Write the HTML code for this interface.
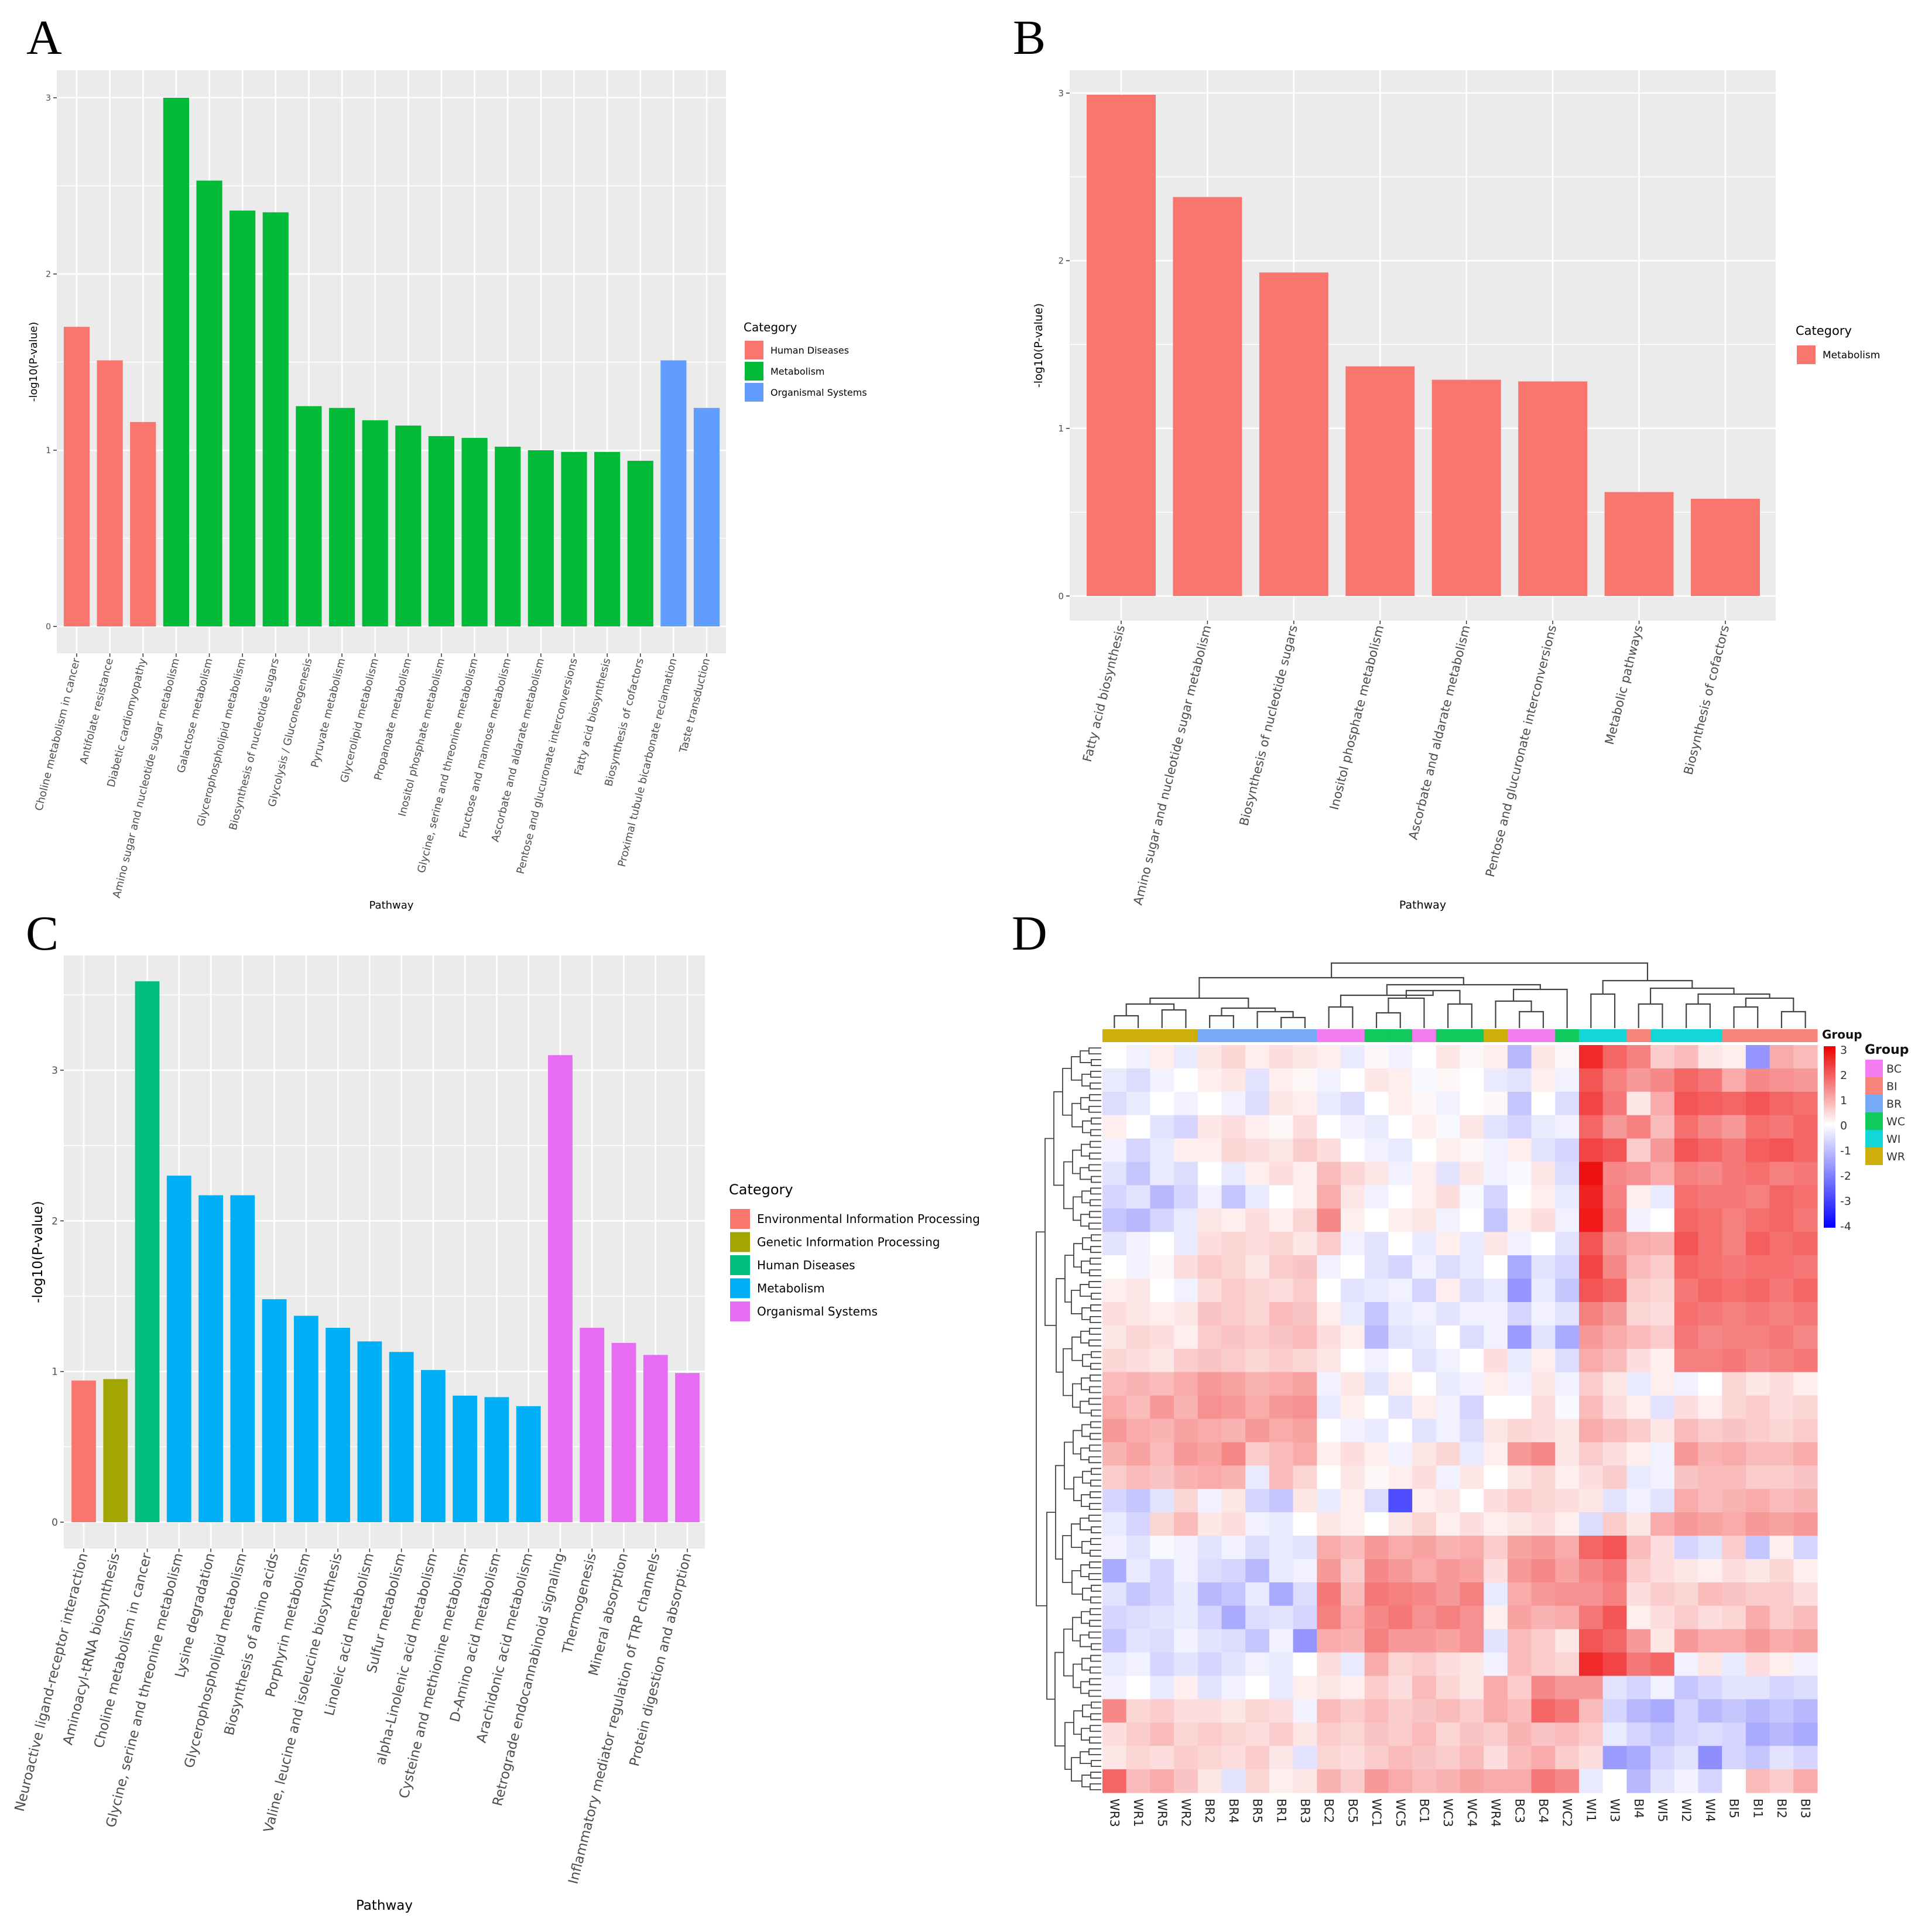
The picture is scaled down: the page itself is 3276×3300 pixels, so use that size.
<!DOCTYPE html>
<html><head><meta charset="utf-8">
<style>
html,body{margin:0;padding:0;background:#fff;}
svg{display:block;font-family:"DejaVu Sans","Liberation Sans",sans-serif;}
</style></head>
<body>
<svg id="fig" xmlns="http://www.w3.org/2000/svg" width="3276" height="3300" viewBox="0 0 3276 3300">
<rect x="0" y="0" width="3276" height="3300" fill="#fff"/>
<text x="45" y="92" font-family="Liberation Serif" font-size="84">A</text>
<text x="1730" y="92" font-family="Liberation Serif" font-size="84">B</text>
<text x="44" y="1622" font-family="Liberation Serif" font-size="84">C</text>
<text x="1728" y="1622" font-family="Liberation Serif" font-size="84">D</text>
</svg>
<script>
// ---------- Panel A data ----------
const catsA = ["Choline metabolism in cancer","Antifolate resistance","Diabetic cardiomyopathy","Amino sugar and nucleotide sugar metabolism","Galactose metabolism","Glycerophospholipid metabolism","Biosynthesis of nucleotide sugars","Glycolysis / Gluconeogenesis","Pyruvate metabolism","Glycerolipid metabolism","Propanoate metabolism","Inositol phosphate metabolism","Glycine, serine and threonine metabolism","Fructose and mannose metabolism","Ascorbate and aldarate metabolism","Pentose and glucuronate interconversions","Fatty acid biosynthesis","Biosynthesis of cofactors","Proximal tubule bicarbonate reclamation","Taste transduction"];
const valsA = [1.70,1.51,1.16,3.00,2.53,2.36,2.35,1.25,1.24,1.17,1.14,1.08,1.07,1.02,1.00,0.99,0.99,0.94,1.51,1.24];
const groupA = [0,0,0,1,1,1,1,1,1,1,1,1,1,1,1,1,1,1,2,2];
const legendA = ["Human Diseases","Metabolism","Organismal Systems"];
const colorsA = ["#F8766D","#00BA38","#619CFF"];
const ticksA = [0,1,2,3];
// ---------- Panel B data ----------
const catsB = ["Fatty acid biosynthesis","Amino sugar and nucleotide sugar metabolism","Biosynthesis of nucleotide sugars","Inositol phosphate metabolism","Ascorbate and aldarate metabolism","Pentose and glucuronate interconversions","Metabolic pathways","Biosynthesis of cofactors"];
const valsB = [2.99,2.38,1.93,1.37,1.29,1.28,0.62,0.58];
const groupB = [0,0,0,0,0,0,0,0];
const legendB = ["Metabolism"];
const colorsB = ["#F8766D"];
const ticksB = [0,1,2,3];
// ---------- Panel C data ----------
const catsC = ["Neuroactive ligand-receptor interaction","Aminoacyl-tRNA biosynthesis","Choline metabolism in cancer","Glycine, serine and threonine metabolism","Lysine degradation","Glycerophospholipid metabolism","Biosynthesis of amino acids","Porphyrin metabolism","Valine, leucine and isoleucine biosynthesis","Linoleic acid metabolism","Sulfur metabolism","alpha-Linolenic acid metabolism","Cysteine and methionine metabolism","D-Amino acid metabolism","Arachidonic acid metabolism","Retrograde endocannabinoid signaling","Thermogenesis","Mineral absorption","Inflammatory mediator regulation of TRP channels","Protein digestion and absorption"];
const valsC = [0.94,0.95,3.59,2.30,2.17,2.17,1.48,1.37,1.29,1.20,1.13,1.01,0.84,0.83,0.77,3.10,1.29,1.19,1.11,0.99];
const groupC = [0,1,2,3,3,3,3,3,3,3,3,3,3,3,3,4,4,4,4,4];
const legendC = ["Environmental Information Processing","Genetic Information Processing","Human Diseases","Metabolism","Organismal Systems"];
const colorsC = ["#F8766D","#A3A500","#00BF7D","#00B0F6","#E76BF3"];
const ticksC = [0,1,2,3];
// ---------- Panel D data ----------
const sampleLabels = ["WR3","WR1","WR5","WR2","BR2","BR4","BR5","BR1","BR3","BC2","BC5","WC1","WC5","BC1","WC3","WC4","WR4","BC3","BC4","WC2","WI1","WI3","BI4","WI5","WI2","WI4","BI5","BI1","BI2","BI3"];
const sampleGroups = ["WR","WR","WR","WR","BR","BR","BR","BR","BR","BC","BC","WC","WC","BC","WC","WC","WR","BC","BC","WC","WI","WI","BI","WI","WI","WI","BI","BI","BI","BI"];
const groupNames = ["BC","BI","BR","WC","WI","WR"];
const groupColors = ["#F57BF0","#F8857C","#76AAF6","#12C95E","#13D6D8","#CDAE0A"];
const scaleTicks = [3,2,1,0,-1,-2,-3,-4];
const heat = [
[0,-2,2,-3,3,5,2,4,3,2,-3,1,-2,0,3,1,2,-10,3,1,25,18,15,6,8,3,2,-15,10,8],
[-3,-5,-2,0,2,3,-4,2,1,-2,0,3,2,-1,1,0,-3,-4,2,-2,20,15,12,14,18,16,10,14,13,12],
[-5,-3,0,-2,0,-2,-5,3,2,-3,-5,0,2,1,-2,0,1,-8,0,-5,22,16,3,10,20,19,18,20,18,17],
[2,0,-4,-6,3,4,2,1,4,0,-2,-3,0,2,-1,3,-4,-6,-3,-2,18,12,15,8,17,14,12,17,16,18],
[-2,-6,-3,2,2,5,4,3,6,4,0,-2,-3,0,2,1,-2,2,-4,-6,22,20,6,12,20,18,16,19,20,18],
[-4,-8,-3,-5,0,-3,2,4,2,8,5,3,-2,2,-4,3,-2,-1,3,-5,28,14,13,10,15,14,16,17,15,16],
[-6,-4,-10,-6,-2,-8,-3,0,2,10,3,-2,0,2,4,-1,-6,0,2,-3,26,15,2,-3,17,16,16,15,18,17],
[-8,-10,-6,-3,3,2,4,2,5,14,2,0,2,3,-2,0,-8,2,4,-2,27,16,-2,0,18,17,15,17,18,16],
[-4,-2,0,-3,4,5,4,5,3,6,-2,-4,0,-3,2,-3,3,-2,0,-4,20,12,10,9,20,17,15,19,17,18],
[0,-2,1,4,6,5,3,6,7,-2,0,-4,-6,-2,-5,-3,0,-12,-4,-6,22,14,8,6,18,17,16,17,17,16],
[2,3,0,-2,4,6,5,4,6,0,-4,-3,-2,-6,2,-5,-3,-15,-3,-8,20,18,6,5,16,18,17,18,16,18],
[4,3,2,3,7,6,5,8,7,2,-3,-8,-3,-2,-4,-2,-2,-6,-2,-4,15,12,5,4,17,16,15,16,15,16],
[3,5,4,2,6,7,6,7,8,4,2,-10,-4,-3,0,-5,-2,-14,-4,-12,12,10,8,6,16,14,15,15,16,14],
[5,4,3,6,7,6,5,6,5,3,0,-2,0,-4,-2,0,4,-3,2,-5,10,8,4,2,15,15,16,14,15,16],
[8,9,8,10,12,11,9,10,11,-2,3,-4,2,0,-3,-2,2,-2,3,-2,6,3,-3,2,-2,0,5,3,4,2],
[10,8,12,9,13,12,10,12,13,-3,2,0,-4,2,-2,-6,0,0,4,-1,8,4,2,-4,4,2,5,6,4,5],
[12,10,9,11,10,9,12,10,11,0,-2,-3,0,-4,-2,-5,3,5,4,3,10,8,6,3,8,6,7,6,5,6],
[9,11,8,12,11,14,6,8,10,2,4,2,-2,3,5,-3,2,12,14,3,6,4,2,-2,12,9,10,8,8,10],
[6,8,7,9,10,9,-3,8,5,0,3,1,2,4,-2,3,0,3,5,2,4,6,-3,-2,7,8,8,6,6,7],
[-6,-8,-4,5,-2,3,-6,-8,3,-3,2,-5,-25,2,3,0,4,6,5,4,3,-4,-2,-4,10,8,9,10,8,9],
[-3,-6,5,8,3,4,-2,-3,0,3,2,0,3,5,2,4,2,3,4,2,-5,6,3,10,12,11,10,12,11,12],
[-2,-4,-1,-2,-4,-2,-5,-3,-4,10,8,12,10,11,9,10,6,11,12,10,18,20,8,4,-6,-4,6,-8,2,-6],
[-12,-3,-6,-2,-5,-6,-10,-3,-2,12,6,14,12,10,12,11,4,12,14,11,14,16,6,4,3,2,4,3,5,2],
[-4,-8,-6,-3,-10,-8,-3,-12,-5,16,8,16,15,14,12,15,-3,10,12,13,13,15,4,6,5,8,7,6,6,4],
[-6,-5,-4,-3,-6,-12,-5,-4,-6,15,10,14,16,13,15,13,2,11,9,10,16,20,2,4,6,4,5,10,6,8],
[-8,-4,-5,-2,-4,-5,-8,-2,-15,10,9,15,12,12,11,13,-4,8,6,3,20,18,12,3,12,10,10,12,10,11],
[-3,-2,-6,-4,-6,-4,-2,-3,0,4,-3,10,5,6,4,3,-2,8,6,5,25,22,16,18,-2,3,-3,4,2,-2],
[-2,0,-3,2,-4,-2,0,-3,2,3,2,6,4,8,5,3,10,6,14,12,12,-4,-6,-2,-8,-6,-4,-4,-6,-5],
[14,5,6,4,4,3,5,4,-2,8,6,8,6,7,8,6,10,8,18,16,8,-6,-10,-12,-6,-10,-8,-10,-8,-10],
[4,6,8,5,6,5,4,6,3,6,5,7,6,8,5,7,6,9,7,8,6,-3,-6,-8,-6,-5,-6,-12,-10,-12],
[3,5,4,6,5,4,6,3,-4,5,4,6,8,7,6,8,4,8,10,6,4,-14,-12,-6,-4,-16,-6,-8,-4,-6],
[18,8,10,7,3,-4,5,2,3,9,6,12,10,8,9,11,10,10,16,14,-3,0,-10,-4,-2,-6,0,8,6,10]
];

const NS = "http://www.w3.org/2000/svg";
const svg = document.getElementById("fig");
function mk(tag, attrs, parent) {
  const e = document.createElementNS(NS, tag);
  for (const k in attrs) e.setAttribute(k, attrs[k]);
  (parent || svg).appendChild(e);
  return e;
}

function barChart(o) {
  const g = mk("g", {});
  
  
  const n = o.cats.length;
  const step = (o.lastC - o.firstC) / (n - 1);
  const xC = i => o.firstC + i * step;
  const yS = v => o.y0 - (v / 3) * (o.y0 - o.y3);
  const bg = mk("rect", {x:o.px0, y:o.py0, width:o.px1-o.px0, height:o.py1-o.py0, fill:"#EBEBEB"}, g);
  
  
  for (let t = 0.5; yS(t) > o.py0; t += 1) {
    mk("line", {x1:o.px0, x2:o.px1, y1:yS(t), y2:yS(t), stroke:"#fff", "stroke-width":1.3}, g);
  }
  o.ticks.forEach(t => {
    const ln = mk("line", {x1:o.px0, x2:o.px1, y1:yS(t), y2:yS(t), stroke:"#fff", "stroke-width":2.6}, g);
    
    
    mk("line", {x1:o.px0-6, x2:o.px0, y1:yS(t), y2:yS(t), stroke:"#333", "stroke-width":1.5}, g);
    const tx = mk("text", {x:o.px0-10, y:yS(t)+o.tickFs*0.35, "text-anchor":"end", "font-size":o.tickFs, fill:"#4D4D4D"}, g);
    tx.textContent = t;
    
    
  });
  o.cats.forEach((c, i) => {
    mk("line", {x1:xC(i), x2:xC(i), y1:o.py0, y2:o.py1, stroke:"#fff", "stroke-width":2.6}, g);
  });
  o.vals.forEach((v, i) => {
    const w = step * o.bw;
    const r = mk("rect", {x:xC(i)-w/2, y:yS(v), width:w, height:o.y0-yS(v), fill:o.colors[o.groups[i]]}, g);
    
    
  });
  o.cats.forEach((c, i) => {
    mk("line", {x1:xC(i), x2:xC(i), y1:o.py1, y2:o.py1+6, stroke:"#333", "stroke-width":1.5}, g);
    const ax = xC(i) + o.labFs*0.3, ay = o.py1 + 10;
    const t = mk("text", {x:ax, y:ay, "text-anchor":"end", "font-size":o.labFs, fill:"#4D4D4D",
      transform:`rotate(${o.rot} ${ax} ${ay})`}, g);
    t.textContent = c;
    
    
  });
  const yt = mk("text", {x:o.yTitleX, y:(o.py0+o.py1)/2, "text-anchor":"middle", "font-size":o.titleFs, fill:"#000",
    transform:`rotate(-90 ${o.yTitleX} ${(o.py0+o.py1)/2})`}, g);
  yt.textContent = "-log10(P-value)";
  
  
  const xt = mk("text", {x:(o.px0+o.px1)/2, y:o.xTitleY, "text-anchor":"middle", "font-size":o.titleFs, fill:"#000"}, g);
  xt.textContent = "Pathway";
  
  
  const lg = mk("g", {}, g);
  
  
  const lt = mk("text", {x:o.legX, y:o.legY, "font-size":o.legTitleFs, fill:"#000"}, lg);
  lt.textContent = "Category";
  
  
  o.legend.forEach((name, i) => {
    const cy = o.legY + o.legFirst + i * o.legStep;
    const sw = mk("rect", {x:o.legX+2, y:cy-o.key/2, width:o.key, height:o.key, fill:o.colors[i]}, lg);
    
    
    const tt = mk("text", {x:o.legX+o.key+14, y:cy+o.legFs*0.36, "font-size":o.legFs, fill:"#000"}, lg);
    tt.textContent = name;
    
    
  });
}

barChart({name:"chart-a", cats:catsA, vals:valsA, groups:groupA, colors:colorsA, legend:legendA, ticks:ticksA,
  px0:97, px1:1240, py0:120, py1:1116, y0:1070, y3:167, firstC:131, lastC:1207, bw:0.78,
  tickFs:14, labFs:18, rot:-76, titleFs:18, yTitleX:63, xTitleY:1552,
  legX:1270, legY:566, legTitleFs:20, legFs:16, legFirst:32, legStep:36, key:32});
barChart({name:"chart-b", cats:catsB, vals:valsB, groups:groupB, colors:colorsB, legend:legendB, ticks:ticksB,
  px0:1827, px1:3033, py0:120, py1:1060, y0:1018, y3:159, firstC:1915, lastC:2947, bw:0.8,
  tickFs:15, labFs:21, rot:-76, titleFs:19, yTitleX:1780, xTitleY:1552,
  legX:3067, legY:572, legTitleFs:21, legFs:17, legFirst:34, legStep:36, key:32});
barChart({name:"chart-c", cats:catsC, vals:valsC, groups:groupC, colors:colorsC, legend:legendC, ticks:ticksC,
  px0:109, px1:1204, py0:1632, py1:2645, y0:2600, y3:1828, firstC:143, lastC:1174, bw:0.77,
  tickFs:17, labFs:23, rot:-76, titleFs:23, yTitleX:72, xTitleY:3262,
  legX:1245, legY:2040, legTitleFs:24, legFs:20, legFirst:42, legStep:39.5, key:34});

// ---------- Heatmap D ----------
const hx0 = 1883, hx1 = 3104, hy0 = 1785, hy1 = 3062;
const nCol = sampleLabels.length, nRow = heat.length;
const cw = (hx1 - hx0) / nCol, rh = (hy1 - hy0) / nRow;
function heatColor(v) {
  const x = v / 10;
  let r, gg, b;
  if (x >= 0) { const t = Math.min(x / 3, 1); r = 255 - 18*t; gg = 255 * (1 - t); b = 255 * (1 - t); }
  else { const t = Math.min(-x / 3.6, 1); r = 255 * (1 - t); gg = 255 * (1 - t); b = 255; }
  return `rgb(${Math.round(r)},${Math.round(gg)},${Math.round(b)})`;
}
const hg = mk("g", {});


heat.forEach((row, ri) => {
  row.forEach((v, ci) => {
    const c = mk("rect", {x:hx0 + ci*cw, y:hy0 + ri*rh, width:cw+0.6, height:rh+0.6, fill:heatColor(v)}, hg);
    
    
  });
});
sampleGroups.forEach((gname, ci) => {
  const a = mk("rect", {x:hx0 + ci*cw, y:1758, width:cw+0.6, height:22, fill:groupColors[groupNames.indexOf(gname)]});
  
  
});
sampleLabels.forEach((s, ci) => {
  const x = hx0 + (ci+0.5)*cw - 7, y = hy1 + 10;
  const t = mk("text", {x:x, y:y, "font-size":21, fill:"#222", transform:`rotate(90 ${x} ${y})`});
  t.textContent = s;
  
  
});
const colTree = [1645, [1670, [1705, [1715,[1735,0,1],[1725,2,3]], [1722,[1735,4,5],[1728,6,[1738,7,8]]]],
  [1682, [1700,[1720,9,10],[1692,[1705,[1730,11,12],13],[1715,14,15]]], [1690,[1710,16,[1728,17,18]],19]]],
  [1675,[1698,20,21],[1688,[1715,22,23],[1698,[1715,24,25],[1705,[1720,26,27],[1728,28,29]]]]]];
const dg = mk("g", {fill:"none", stroke:"#444", "stroke-width":2.2});


function drawCol(node) {
  if (typeof node === "number") return {x: hx0 + (node+0.5)*cw, y: 1756};
  const a = drawCol(node[1]), b = drawCol(node[2]), y = node[0];
  mk("path", {d:`M${a.x},${a.y}V${y}H${b.x}V${b.y}`}, dg);
  return {x:(a.x+b.x)/2, y:y};
}
drawCol(colTree);
const rg = mk("g", {fill:"none", stroke:"#444", "stroke-width":1.8});


const nLeaf = 128, lh = (hy1 - hy0) / nLeaf;
function drawRow(lo, hi, depth) {
  if (hi - lo === 1) return {y: hy0 + (lo+0.5)*lh, x: hx0 - 2};
  const mid = Math.floor((lo + hi) / 2);
  const a = drawRow(lo, mid, depth+1), b = drawRow(mid, hi, depth+1);
  const x = 1770 + depth * 15 + ((lo * 7) % 5);
  mk("path", {d:`M${a.x},${a.y}H${x}V${b.y}H${b.x}`}, rg);
  return {x:x, y:(a.y+b.y)/2};
}
drawRow(0, nLeaf, 0);
const defs = mk("defs", {});
const grad = mk("linearGradient", {id:"hs", x1:0, y1:0, x2:0, y2:1}, defs);
[[0,"rgb(237,0,0)"],[0.43,"rgb(255,255,255)"],[1,"rgb(0,0,255)"]].forEach(s => mk("stop", {offset:s[0], "stop-color":s[1]}, grad));
const sb = mk("rect", {x:3115, y:1787, width:20, height:310, fill:"url(#hs)"});


const gt1 = mk("text", {x:3112, y:1774, "font-size":20, "font-weight":"bold", fill:"#111"});
gt1.textContent = "Group";


scaleTicks.forEach((v, i) => {
  const t = mk("text", {x:3143, y:1800 + i*43, "font-size":19, fill:"#333"});
  t.textContent = v;
  
  
});
const gt2 = mk("text", {x:3185, y:1800, "font-size":22, "font-weight":"bold", fill:"#111"});
gt2.textContent = "Group";


groupNames.forEach((gname, i) => {
  const r = mk("rect", {x:3186, y:1810 + i*30, width:30, height:30, fill:groupColors[i]});
  
  
  const t = mk("text", {x:3222, y:1832 + i*30, "font-size":19, fill:"#333"});
  t.textContent = gname;
  
  
});
</script>
</body></html>
